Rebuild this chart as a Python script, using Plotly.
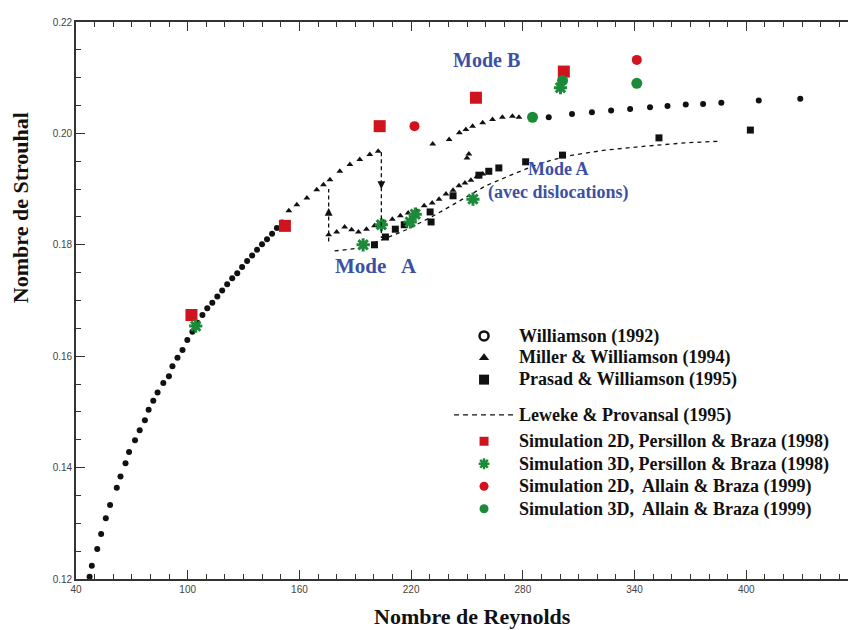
import plotly.graph_objects as go

# ---------------- data ----------------
# Williamson (1992)
will_re = [47.3, 48.5, 51.4, 53.5, 56.0, 58.3, 61.9, 63.9, 66.6, 68.5, 71.7, 74.2, 77.0, 79.0,
           81.5, 83.8, 86.9, 89.9, 91.8, 94.5, 97.2, 99.8, 102.5, 105.2, 107.9, 110.5, 113.2,
           115.9, 118.5, 121.2, 123.9, 126.6, 129.2, 131.9, 134.6, 137.2, 139.9, 142.6, 145.3,
           147.9, 150.6,
           293.9, 306.4, 317.1, 327.4, 337.6, 348.3, 357.7, 367.5, 376.8, 386.6, 406.7, 429.0]
will_st = [0.1204, 0.1224, 0.1254, 0.1281, 0.1309, 0.1333, 0.1364, 0.1384, 0.1408, 0.1428,
           0.1449, 0.1467, 0.1485, 0.1504, 0.1520, 0.1535, 0.1552, 0.1564, 0.1582, 0.1597,
           0.1611, 0.1629, 0.1644, 0.1660, 0.1674, 0.1686, 0.1696, 0.1707, 0.1718, 0.1729,
           0.1740, 0.1749, 0.1760, 0.1771, 0.1781, 0.1791, 0.1801, 0.1810, 0.1820, 0.1830,
           0.1840,
           0.2029, 0.2035, 0.2038, 0.2041, 0.2044, 0.2047, 0.2049, 0.2052, 0.2053, 0.2055,
           0.2059, 0.2062]

# Miller & Williamson (1994)
mil_re = [154.3, 158.6, 164.0, 169.3, 172.9, 176.4, 181.7, 187.1, 192.4, 197.8, 202.3,
          175.7, 180.0, 184.3, 188.0, 191.7, 196.0, 200.3, 205.1, 209.9, 214.2, 218.4, 222.7,
          227.0, 231.3, 235.0, 238.7, 242.5, 245.7, 248.9, 252.1, 255.3, 258.5, 250.0, 251.0,
          231.6, 240.4, 245.9, 249.4, 253.0, 258.4, 263.7, 269.0, 274.4, 277.9]
mil_st = [0.1861, 0.1872, 0.1884, 0.1899, 0.1908, 0.1917, 0.1932, 0.1944, 0.1953, 0.1962, 0.1968,
          0.1818, 0.1823, 0.1832, 0.1827, 0.1823, 0.1828, 0.1834, 0.1841, 0.1846, 0.1852, 0.1857,
          0.1862, 0.1870, 0.1875, 0.1882, 0.1891, 0.1898, 0.1906, 0.1911, 0.1916, 0.1922, 0.1927,
          0.1956, 0.1963,
          0.1981, 0.1989, 0.2001, 0.2007, 0.2013, 0.2019, 0.2025, 0.2029, 0.2031, 0.2029]

# Prasad & Williamson (1995)
pra_re = [200.3, 206.2, 211.5, 216.3, 230.7, 230.2, 242.5, 256.4, 261.7, 267.1, 281.5, 301.3,
          353.1, 402.2]
pra_st = [0.1800, 0.1814, 0.1828, 0.1836, 0.1841, 0.1859, 0.1888, 0.1925, 0.1932, 0.1938,
          0.1949, 0.1961, 0.1992, 0.2006]

# Leweke & Provansal (1995)
lew_re = [178.9, 192.3, 205.0, 217.4, 231.0, 244.1, 260.1, 273.5, 288.4, 302.9, 324.2, 345.6,
          367.1, 385.7]
lew_st = [0.1789, 0.1794, 0.1810, 0.1827, 0.1850, 0.1875, 0.1906, 0.1925, 0.1945, 0.1959,
          0.1970, 0.1977, 0.1983, 0.1986]

# Simulations
p2d_re = [102.0, 152.2, 203.1, 254.8, 302.0]
p2d_st = [0.1674, 0.1834, 0.2013, 0.2064, 0.2111]
p3d_re = [104.3, 194.2, 204.0, 219.5, 222.2, 253.2, 300.2]
p3d_st = [0.1654, 0.1800, 0.1836, 0.1841, 0.1855, 0.1882, 0.2082]
a2d_re = [221.8, 341.2]
a2d_st = [0.2013, 0.2132]
a3d_re = [285.2, 301.3, 341.2]
a3d_st = [0.2029, 0.2095, 0.2090]

# hysteresis jumps (Re, St from, St to, arrow head St)
hyst_down = (204.0, 0.1966, 0.1812, 0.1900)
hyst_up = (175.7, 0.1806, 0.1900, 0.1866)

x_ticks = [40, 100, 160, 220, 280, 340, 400, 460]
y_ticks = [0.12, 0.14, 0.16, 0.18, 0.20, 0.22]

# ---------------- styling ----------------
SERIF = "Liberation Serif"
BLACK = "#111111"
RED = "#d0141e"
GREEN = "#1d8a3a"
BLUE = "#3b50a6"

fig = go.Figure()

# Leweke dashed line
fig.add_trace(go.Scatter(x=lew_re, y=lew_st, mode="lines", showlegend=False,
                         line=dict(color=BLACK, width=1.3, dash="4px,4px")))
# experimental data
fig.add_trace(go.Scatter(x=will_re, y=will_st, mode="markers", showlegend=False,
                         marker=dict(symbol="circle", size=6, color=BLACK)))
fig.add_trace(go.Scatter(x=mil_re, y=mil_st, mode="markers", showlegend=False,
                         marker=dict(symbol="triangle-up", size=6, color=BLACK)))
fig.add_trace(go.Scatter(x=pra_re, y=pra_st, mode="markers", showlegend=False,
                         marker=dict(symbol="square", size=7, color=BLACK)))
# simulations
fig.add_trace(go.Scatter(x=p2d_re, y=p2d_st, mode="markers", showlegend=False,
                         marker=dict(symbol="square", size=12, color=RED)))
fig.add_trace(go.Scatter(x=a3d_re, y=a3d_st, mode="markers", showlegend=False,
                         marker=dict(symbol="circle", size=11, color=GREEN)))
fig.add_trace(go.Scatter(x=p3d_re, y=p3d_st, mode="markers", showlegend=False,
                         marker=dict(symbol="asterisk-open", size=11, color=GREEN,
                                     line=dict(color=GREEN, width=3))))
fig.add_trace(go.Scatter(x=a2d_re, y=a2d_st, mode="markers", showlegend=False,
                         marker=dict(symbol="circle", size=10, color=RED)))

# ---------------- legend entries ----------------
def lname(t):
    return '<span style="font-size:18px">' + t + '</span>'

fig.add_trace(go.Scatter(x=[None], y=[None], mode="markers", legend="legend",
                         name=lname("Williamson (1992)"),
                         marker=dict(symbol="circle-open", size=9, color=BLACK,
                                     line=dict(width=2.5, color=BLACK))))
fig.add_trace(go.Scatter(x=[None], y=[None], mode="markers", legend="legend",
                         name=lname("Miller &amp; Williamson (1994)"),
                         marker=dict(symbol="triangle-up", size=9, color=BLACK)))
fig.add_trace(go.Scatter(x=[None], y=[None], mode="markers", legend="legend",
                         name=lname("Prasad &amp; Williamson (1995)"),
                         marker=dict(symbol="square", size=10, color=BLACK)))
fig.add_trace(go.Scatter(x=[None], y=[None], mode="lines", legend="legend2",
                         name=lname("Leweke &amp; Provansal (1995)"),
                         line=dict(color=BLACK, width=1.3, dash="5px,4px")))
fig.add_trace(go.Scatter(x=[None], y=[None], mode="markers", legend="legend3",
                         name=lname("Simulation 2D, Persillon &amp; Braza (1998)"),
                         marker=dict(symbol="square", size=9, color=RED)))
fig.add_trace(go.Scatter(x=[None], y=[None], mode="markers", legend="legend3",
                         name=lname("Simulation 3D, Persillon &amp; Braza (1998)"),
                         marker=dict(symbol="asterisk-open", size=9, color=GREEN,
                                     line=dict(color=GREEN, width=2.5))))
fig.add_trace(go.Scatter(x=[None], y=[None], mode="markers", legend="legend3",
                         name=lname("Simulation 2D,&nbsp; Allain &amp; Braza (1999)"),
                         marker=dict(symbol="circle", size=9, color=RED)))
fig.add_trace(go.Scatter(x=[None], y=[None], mode="markers", legend="legend3",
                         name=lname("Simulation 3D,&nbsp; Allain &amp; Braza (1999)"),
                         marker=dict(symbol="circle", size=9, color=GREEN)))

# ---------------- hysteresis arrows ----------------
shapes = []
annotations = []
for re_, s0, s1, head in (hyst_down, hyst_up):
    shapes.append(dict(type="line", xref="x", yref="y", x0=re_, x1=re_, y0=s0, y1=s1,
                       line=dict(color=BLACK, width=1.3, dash="4px,3px")))
    tail = head + (0.0012 if s1 < s0 else -0.0012)
    annotations.append(dict(x=re_, y=head, ax=re_, ay=tail, xref="x", yref="y",
                            axref="x", ayref="y", text="", showarrow=True,
                            arrowhead=2, arrowsize=1.2, arrowwidth=1.3, arrowcolor=BLACK))

# ---------------- text annotations ----------------
annotations += [
    dict(x=260.5, y=0.2131, xref="x", yref="y", text="Mode B", showarrow=False,
         xanchor="center", yanchor="middle",
         font=dict(family=SERIF, size=20, color=BLUE, weight="bold")),
    dict(x=201.0, y=0.1762, xref="x", yref="y", text="Mode&nbsp;&nbsp; A", showarrow=False,
         xanchor="center", yanchor="middle",
         font=dict(family=SERIF, size=21, color=BLUE, weight="bold")),
    dict(x=299.0, y=0.1914, xref="x", yref="y", text="Mode A<br>(avec dislocations)",
         showarrow=False, xanchor="center", yanchor="middle",
         font=dict(family=SERIF, size=18, color=BLUE, weight="bold")),
    dict(x=(466 - 68) / 784, y=(571 - 608) / 557, xref="paper", yref="paper",
         text="Nombre de Reynolds", showarrow=False, xanchor="center", yanchor="middle",
         font=dict(family=SERIF, size=22, color="#111", weight="bold")),
    dict(x=(12 - 68) / 784, y=(571 - 200) / 557, xref="paper", yref="paper",
         text="Nombre de Strouhal", showarrow=False, textangle=-90,
         xanchor="center", yanchor="middle",
         font=dict(family=SERIF, size=22, color="#111", weight="bold")),
]

axis_common = dict(showline=True, linewidth=1.6, linecolor="#333", mirror="ticks",
                   ticks="inside", ticklen=9, tickwidth=1.4, tickcolor="#333",
                   showgrid=False, zeroline=False,
                   tickfont=dict(family="Liberation Sans", size=10, color="#444"))

leg_common = dict(bgcolor="rgba(0,0,0,0)", borderwidth=0, itemwidth=60,
                  xanchor="left", yanchor="top", itemclick=False,
                  font=dict(family=SERIF, size=14.5, color="#111", weight="bold"))

LEG_X = (442 - 68) / 784

fig.update_layout(
    width=856, height=630,
    margin=dict(l=68, r=4, t=14, b=59),
    paper_bgcolor="white", plot_bgcolor="white",
    xaxis=dict(range=[40, 460], tickvals=x_ticks, ticktext=[str(v) for v in x_ticks],
               minor=dict(dtick=10, ticks="inside", ticklen=5, tickwidth=1.2, tickcolor="#333"),
               **axis_common),
    yaxis=dict(range=[0.12, 0.22], tickvals=y_ticks, ticktext=["%.2f" % v for v in y_ticks],
               minor=dict(dtick=0.005, ticks="inside", ticklen=5, tickwidth=1.2, tickcolor="#333"),
               **axis_common),
    legend=dict(x=LEG_X, y=(571 - 312) / 557, **leg_common),
    legend2=dict(x=LEG_X, y=(571 - 391) / 557, **leg_common),
    legend3=dict(x=LEG_X, y=(571 - 417) / 557,
                 **{**leg_common, "font": dict(family=SERIF, size=15, color="#111", weight="bold")}),
    shapes=shapes,
    annotations=annotations,
)

fig.write_html("out.html")
